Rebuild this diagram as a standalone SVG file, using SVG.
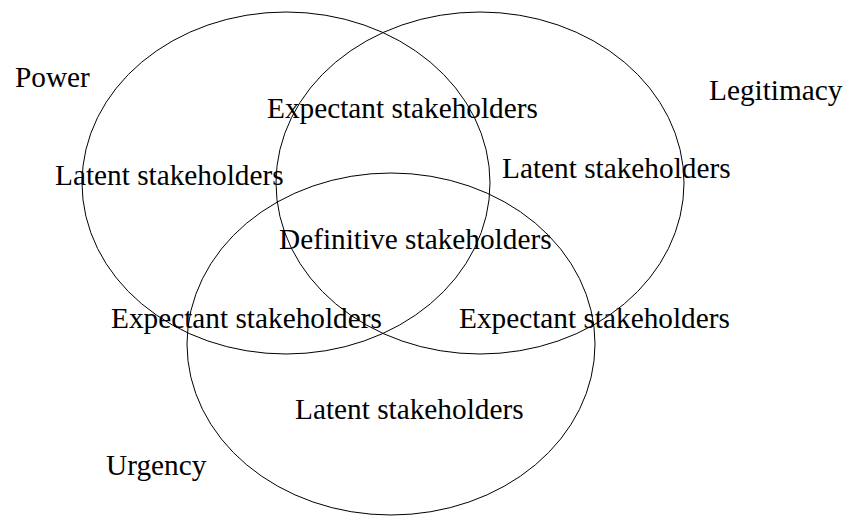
<svg xmlns="http://www.w3.org/2000/svg" width="843" height="516" viewBox="0 0 843 516">
  <style>
    .set { fill: none; stroke: #000; stroke-width: 1; }
    text { font-family: "Liberation Serif", "Times New Roman", serif; font-size: 29.3px; fill: #000; }
  </style>
  <rect width="843" height="516" fill="#fff"/>
  <!-- attribute circles -->
  <g id="power">
    <ellipse class="set" cx="286" cy="183" rx="204" ry="171"/>
    <text x="15" y="87">Power</text>
  </g>
  <g id="legitimacy">
    <ellipse class="set" cx="480" cy="183" rx="204" ry="171"/>
    <text x="709" y="100">Legitimacy</text>
  </g>
  <g id="urgency">
    <ellipse class="set" cx="391" cy="344" rx="204" ry="171"/>
    <text x="106" y="475">Urgency</text>
  </g>
  <!-- region labels -->
  <g id="regions">
    <text x="55" y="185">Latent stakeholders</text>
    <text x="502" y="178">Latent stakeholders</text>
    <text x="295" y="419">Latent stakeholders</text>
    <text x="267" y="118">Expectant stakeholders</text>
    <text x="111" y="328">Expectant stakeholders</text>
    <text x="459" y="328">Expectant stakeholders</text>
    <text x="279" y="249">Definitive stakeholders</text>
  </g>
</svg>
